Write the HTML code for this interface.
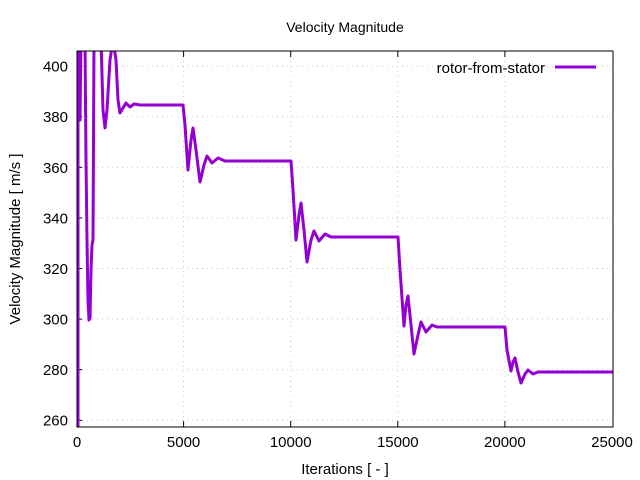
<!DOCTYPE html>
<html><head><style>body{margin:0;background:#fff}svg{display:block}text{font-family:"Liberation Sans",sans-serif;fill:#000}</style></head>
<body>
<svg width="640" height="480" viewBox="0 0 640 480">
<rect width="640" height="480" fill="#fff"/>
<g stroke="#c8c8c8" stroke-width="1" stroke-dasharray="1,4">
<line x1="77" y1="420.3" x2="613" y2="420.3"/><line x1="77" y1="369.7" x2="613" y2="369.7"/><line x1="77" y1="319.1" x2="613" y2="319.1"/><line x1="77" y1="268.5" x2="613" y2="268.5"/><line x1="77" y1="217.9" x2="613" y2="217.9"/><line x1="77" y1="167.3" x2="613" y2="167.3"/><line x1="77" y1="116.7" x2="613" y2="116.7"/><line x1="77" y1="66.1" x2="613" y2="66.1"/>
<line x1="183.6" y1="51" x2="183.6" y2="427"/><line x1="290.7" y1="51" x2="290.7" y2="427"/><line x1="397.8" y1="51" x2="397.8" y2="427"/><line x1="504.9" y1="51" x2="504.9" y2="427"/>
</g>
<g stroke="#000" stroke-width="1">
<line x1="77" y1="420.3" x2="82" y2="420.3"/><line x1="77" y1="369.7" x2="82" y2="369.7"/><line x1="77" y1="319.1" x2="82" y2="319.1"/><line x1="77" y1="268.5" x2="82" y2="268.5"/><line x1="77" y1="217.9" x2="82" y2="217.9"/><line x1="77" y1="167.3" x2="82" y2="167.3"/><line x1="77" y1="116.7" x2="82" y2="116.7"/><line x1="77" y1="66.1" x2="82" y2="66.1"/>
<line x1="183.6" y1="427" x2="183.6" y2="421"/><line x1="290.7" y1="427" x2="290.7" y2="421"/><line x1="397.8" y1="427" x2="397.8" y2="421"/><line x1="504.9" y1="427" x2="504.9" y2="421"/>
<line x1="183.6" y1="51" x2="183.6" y2="57"/><line x1="290.7" y1="51" x2="290.7" y2="57"/><line x1="397.8" y1="51" x2="397.8" y2="57"/><line x1="504.9" y1="51" x2="504.9" y2="57"/>
</g>
<svg x="77" y="51" width="536" height="376" viewBox="77 51 536 376">
<polyline fill="none" stroke="#9400d3" stroke-width="3" stroke-linejoin="round" points="78,430 78,40 80,40 80,120 81,40 85,40 86,160 87,240 88,300 89,320 90,318 91,270 92,245 93,240 94,40 101,40 103,110 105,128 107,110 110,60 113,40 116,60 118,100 120,113 123,108 126,103 130,107 134,104 140,105 183,105 185,125 188,170 191,140 193,128 196,150 200,182 204,165 207,156 212,163 218,158 225,161 291,161 293,190 296,240 299,215 301,203 304,230 307,262 311,240 314,231 319,241 325,234 331,237 398,237 400,270 404,326 406,305 408,296 411,325 414,354 418,335 421,322 426,332 432,325 437,327 505,327 507,350 511,371 513,362 515,358 518,372 521,383 525,374 528,370 533,374 538,372 613,372"/>
</svg>
<rect x="77" y="51" width="536" height="376" fill="none" stroke="#000" stroke-width="1"/>
<g font-size="15" text-anchor="end">
<text x="68" y="425.5">260</text><text x="68" y="375">280</text><text x="68" y="324.5">300</text><text x="68" y="274">320</text><text x="68" y="223.5">340</text><text x="68" y="173">360</text><text x="68" y="122">380</text><text x="68" y="71.5">400</text>
</g>
<g font-size="15" text-anchor="middle">
<text x="77" y="447">0</text><text x="183.6" y="447">5000</text><text x="290.7" y="447">10000</text><text x="397.8" y="447">15000</text><text x="504.9" y="447">20000</text><text x="612" y="447">25000</text>
<text x="345" y="474">Iterations [ - ]</text>
</g>
<text x="345" y="32" font-size="14" text-anchor="middle">Velocity Magnitude</text>
<text x="20" y="239" font-size="15" text-anchor="middle" transform="rotate(-90 20 239)">Velocity Magnitude [ m/s ]</text>
<text x="545" y="73" font-size="15" text-anchor="end">rotor-from-stator</text>
<line x1="555" y1="67" x2="596" y2="67" stroke="#9400d3" stroke-width="3"/>
</svg>
</body></html>
